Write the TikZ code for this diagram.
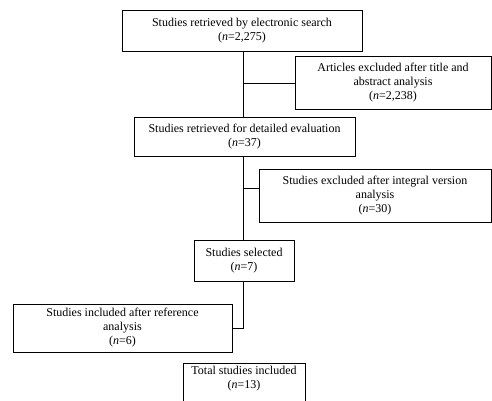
\documentclass[tikz,border=0pt]{standalone}
\usepackage{fontspec}
\setmainfont{Liberation Serif}
\begin{document}
\begin{tikzpicture}[x=1pt,y=-1pt,
  box/.style={draw, line width=1pt, align=center, inner sep=0pt, font=\fontsize{12}{14}\selectfont},
  link/.style={line width=1pt}]
\useasboundingbox (0,0) rectangle (492,400);
\clip (0,0) rectangle (492,400);
\node[box, minimum width=240pt, minimum height=41pt] (s1) at (242,30.5) {Studies retrieved by electronic search\\(\textit{n}=2,275)};
\node[box, minimum width=196pt, minimum height=53pt] (s2) at (393,82.5) {Articles excluded after title and\\abstract analysis\\(\textit{n}=2,238)};
\node[box, minimum width=221pt, minimum height=39pt] (s3) at (244.5,136.5) {Studies retrieved for detailed evaluation\\(\textit{n}=37)};
\node[box, minimum width=232pt, minimum height=53pt] (s4) at (375,195.5) {Studies excluded after integral version\\analysis\\(\textit{n}=30)};
\node[box, minimum width=100pt, minimum height=41pt] (s5) at (244,260.5) {Studies selected\\(\textit{n}=7)};
\node[box, minimum width=219pt, minimum height=48pt] (s6) at (122.5,328) {Studies included after reference\\analysis\\(\textit{n}=6)};
\node[box, minimum width=122pt, minimum height=50pt, anchor=north] (s7) at (244,363) {};
\node[font=\fontsize{12}{14}\selectfont, align=center, anchor=north, inner sep=0pt] (s7t) at (244,366) {Total studies included\\(\textit{n}=13)};
\coordinate (t1) at (243,83);
\coordinate (t2) at (243,188);
\coordinate (t3) at (243,328);
\draw[link] (s1.south -| t1) -- (s3.north -| t1);
\draw[link] (t1) -- (t1 -| s2.west);
\draw[link] (s3.south -| t2) -- (s5.north -| t2);
\draw[link] (t2) -- (t2 -| s4.west);
\draw[link] (s5.south -| t3) -- (t3) -- (t3 -| s6.east);
\end{tikzpicture}
\end{document}
